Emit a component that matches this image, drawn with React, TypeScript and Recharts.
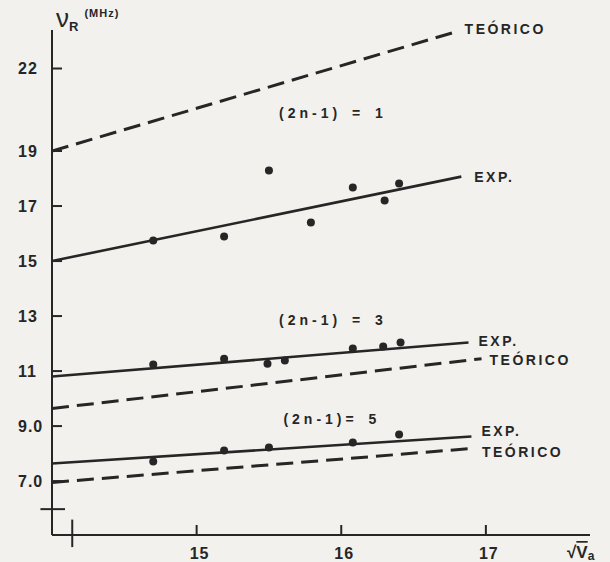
import { ComposedChart, Line, Scatter, XAxis, YAxis, ReferenceDot, ReferenceLine } from 'recharts'

const INK = '#262626'
const PAPER = '#f2f1ed'
const FONT = '"Liberation Sans", Arial, Helvetica, sans-serif'

// (2n-1) = 1
const teo1 = [{ x: 14.0, y: 19.0 }, { x: 16.77, y: 23.3 }]
const exp1 = [{ x: 14.0, y: 15.0 }, { x: 16.83, y: 18.07 }]
const pts1 = [
  { x: 14.7, y: 15.75 }, { x: 15.19, y: 15.89 }, { x: 15.5, y: 18.29 },
  { x: 15.79, y: 16.4 }, { x: 16.08, y: 17.67 }, { x: 16.3, y: 17.2 }, { x: 16.4, y: 17.82 },
]

// (2n-1) = 3
const exp3 = [{ x: 14.0, y: 10.8 }, { x: 16.88, y: 12.04 }]
const teo3 = [{ x: 14.0, y: 9.64 }, { x: 16.97, y: 11.45 }]
const pts3 = [
  { x: 14.7, y: 11.24 }, { x: 15.19, y: 11.45 }, { x: 15.49, y: 11.27 }, { x: 15.61, y: 11.38 },
  { x: 16.08, y: 11.82 }, { x: 16.29, y: 11.89 }, { x: 16.41, y: 12.04 },
]

// (2n-1) = 5
const exp5 = [{ x: 14.0, y: 7.64 }, { x: 16.9, y: 8.62 }]
const teo5 = [{ x: 14.0, y: 6.95 }, { x: 16.89, y: 8.18 }]
const pts5 = [
  { x: 14.7, y: 7.71 }, { x: 15.19, y: 8.11 }, { x: 15.5, y: 8.22 },
  { x: 16.08, y: 8.4 }, { x: 16.4, y: 8.69 },
]

const yTicks = [7, 9, 11, 13, 15, 17, 19, 22]
const yTickText: Record<number, string> = { 7: '7.0', 9: '9.0', 11: '11', 13: '13', 15: '15', 17: '17', 19: '19', 22: '22' }
const xTicks = [15, 16, 17]
const groupText = ['(2n-1) = 1', '(2n-1) = 3', '(2n-1)= 5']

const last = (a: { x: number; y: number }[]) => a[a.length - 1]

const txt = { fontFamily: FONT, fontWeight: 700, fill: INK } as const

const YTick = ({ x, y, payload }: any) => (
  <g>
    <line x1={x} y1={y} x2={x + 10} y2={y} stroke={INK} strokeWidth={2} />
    <text x={x - 34} y={y} dominantBaseline="central" fontSize={16} letterSpacing={1} {...txt}>
      {yTickText[payload.value]}
    </text>
  </g>
)

const XTick = ({ x, y, payload }: any) => (
  <g>
    <line x1={x} y1={y} x2={x} y2={y - 10} stroke={INK} strokeWidth={2} />
    <text x={x + 3} y={y + 18} textAnchor="middle" dominantBaseline="central" fontSize={16} letterSpacing={1} {...txt}>
      {payload.value}
    </text>
  </g>
)

const EndLabel = ({ viewBox, text, dx = 12, dy = 0 }: any) => (
  <text x={viewBox.x + dx} y={viewBox.y + dy} dominantBaseline="central" fontSize={14} letterSpacing={2.5} {...txt}>
    {text}
  </text>
)

const GroupLabel = ({ viewBox, text }: any) => (
  <text x={viewBox.x} y={viewBox.y} dominantBaseline="central" fontSize={14} letterSpacing={4} wordSpacing={3} {...txt}>
    {text}
  </text>
)

const XTitle = ({ viewBox }: any) => (
  <text x={viewBox.x + viewBox.width - 23} y={viewBox.y + 17} dominantBaseline="central" fontSize={17} {...txt}>
    √<tspan textDecoration="overline">V</tspan>
    <tspan fontSize={12} dy={4}>a</tspan>
  </text>
)

const YTitle = ({ viewBox }: any) => (
  <text x={viewBox.x + viewBox.width + 4} y={viewBox.y - 3} fontFamily={FONT} fill={INK}>
    <tspan fontSize={26} fontWeight={400}>ν</tspan>
    <tspan fontSize={13} fontWeight={700} dy={4}>R</tspan>
    <tspan fontSize={11} fontWeight={700} dy={-14} dx={6} letterSpacing={1}>(MHz)</tspan>
  </text>
)

const solid = { stroke: INK, strokeWidth: 2.6 }
const dashed = { stroke: INK, strokeWidth: 3, strokeDasharray: '17 8' }
const dot = (p: any) => <circle cx={p.cx} cy={p.cy} r={4} fill={INK} />

export default function App() {
  return (
    <div style={{ position: 'absolute', left: 0, top: 0, width: 610, height: 562, background: PAPER }}>
      <ComposedChart width={610} height={562} margin={{ top: 30, right: 20, bottom: 0, left: 0 }}>
        <XAxis
          type="number" dataKey="x" domain={[14.0, 17.72]} ticks={xTicks} allowDataOverflow
          height={27} tickSize={0} tickMargin={0} tick={<XTick />}
          axisLine={{ stroke: INK, strokeWidth: 2 }} label={<XTitle />}
        />
        <YAxis
          type="number" dataKey="y" domain={[5.04, 23.4]} ticks={yTicks} allowDataOverflow
          width={52} tickSize={0} tickMargin={0} tick={<YTick />}
          axisLine={{ stroke: INK, strokeWidth: 2 }} label={<YTitle />}
        />

        <Line data={teo1} dataKey="y" {...dashed} dot={false} isAnimationActive={false} />
        <Line data={exp1} dataKey="y" {...solid} dot={false} isAnimationActive={false} />
        <Line data={exp3} dataKey="y" {...solid} dot={false} isAnimationActive={false} />
        <Line data={teo3} dataKey="y" {...dashed} dot={false} isAnimationActive={false} />
        <Line data={exp5} dataKey="y" {...solid} dot={false} isAnimationActive={false} />
        <Line data={teo5} dataKey="y" {...dashed} dot={false} isAnimationActive={false} />

        <Scatter data={pts1} dataKey="y" fill={INK} isAnimationActive={false} shape={dot} />
        <Scatter data={pts3} dataKey="y" fill={INK} isAnimationActive={false} shape={dot} />
        <Scatter data={pts5} dataKey="y" fill={INK} isAnimationActive={false} shape={dot} />

        <ReferenceDot x={last(teo1).x} y={last(teo1).y} r={0} ifOverflow="visible" label={<EndLabel text="TEÓRICO" dx={12} dy={-4} />} />
        <ReferenceDot x={last(exp1).x} y={last(exp1).y} r={0} ifOverflow="visible" label={<EndLabel text="EXP." dx={13} dy={0} />} />
        <ReferenceDot x={last(exp3).x} y={last(exp3).y} r={0} ifOverflow="visible" label={<EndLabel text="EXP." dx={10} dy={-1} />} />
        <ReferenceDot x={last(teo3).x} y={last(teo3).y} r={0} ifOverflow="visible" label={<EndLabel text="TEÓRICO" dx={8} dy={1} />} />
        <ReferenceDot x={last(exp5).x} y={last(exp5).y} r={0} ifOverflow="visible" label={<EndLabel text="EXP." dx={10} dy={-6} />} />
        <ReferenceDot x={last(teo5).x} y={last(teo5).y} r={0} ifOverflow="visible" label={<EndLabel text="TEÓRICO" dx={12} dy={3} />} />

        <ReferenceDot x={15.57} y={20.4} r={0} ifOverflow="visible" label={<GroupLabel text={groupText[0]} />} />
        <ReferenceDot x={15.57} y={12.87} r={0} ifOverflow="visible" label={<GroupLabel text={groupText[1]} />} />
        <ReferenceDot x={15.6} y={9.24} r={0} ifOverflow="visible" label={<GroupLabel text={groupText[2]} />} />

        {/* axis breaks */}
        <ReferenceLine segment={[{ x: 13.92, y: 5.98 }, { x: 14.09, y: 5.98 }]} stroke={INK} strokeWidth={2} ifOverflow="visible" />
        <ReferenceLine segment={[{ x: 14.14, y: 5.6 }, { x: 14.14, y: 4.6 }]} stroke={INK} strokeWidth={2} ifOverflow="visible" />
      </ComposedChart>
    </div>
  )
}
